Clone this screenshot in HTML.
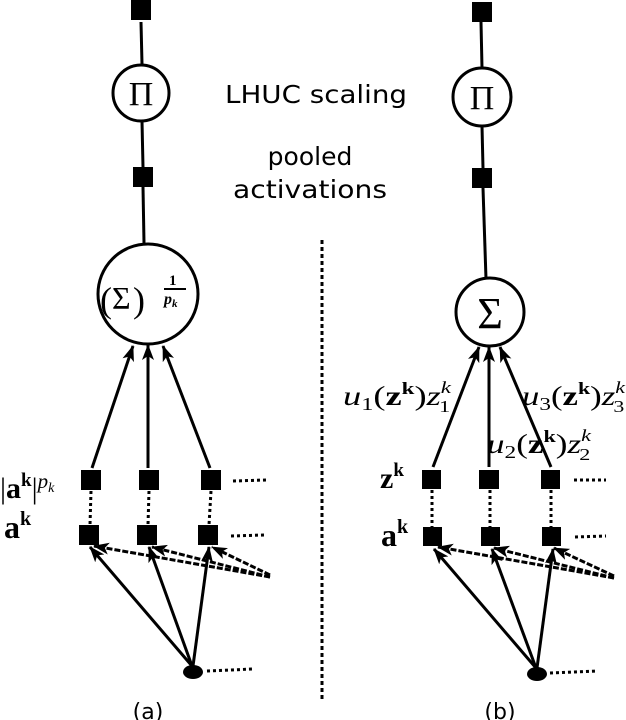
<!DOCTYPE html>
<html><head><meta charset="utf-8"><style>
html,body{margin:0;padding:0;background:#fff;width:626px;height:720px;overflow:hidden}
text{font-family:"Liberation Serif",serif}
.s{font-family:"DejaVu Sans","Liberation Sans",sans-serif}
</style></head><body>
<svg width="626" height="720" viewBox="0 0 626 720" xmlns="http://www.w3.org/2000/svg">
<defs>
<marker id="ar" viewBox="0 0 16 12" refX="15" refY="6" markerWidth="16" markerHeight="12" orient="auto" markerUnits="userSpaceOnUse">
<path d="M0,0 L16,6 L0,12 L4,6 z" fill="#000"/>
</marker>
</defs>
<g stroke="#000" fill="none" stroke-width="3">
<line x1="141" y1="22" x2="142" y2="64"/>
<circle cx="141" cy="93" r="28"/>
<line x1="142" y1="121" x2="143" y2="167"/>
<line x1="143" y1="187" x2="144" y2="243"/>
<circle cx="148" cy="294" r="50"/>
<line x1="481" y1="22" x2="482" y2="68"/>
<circle cx="482" cy="97" r="29"/>
<line x1="482" y1="126" x2="483" y2="168"/>
<line x1="483" y1="188" x2="486" y2="279"/>
<circle cx="490" cy="312" r="34"/>
</g>
<g fill="#000">
<rect x="131" y="0" width="20" height="20"/>
<rect x="133" y="167" width="20" height="20"/>
<rect x="472" y="2" width="20" height="20"/>
<rect x="472" y="168" width="20" height="20"/>
<rect x="81" y="470" width="20" height="20"/>
<rect x="139" y="470" width="20" height="20"/>
<rect x="201" y="470" width="20" height="20"/>
<rect x="79" y="525" width="20" height="20"/>
<rect x="137" y="525" width="20" height="20"/>
<rect x="198" y="525" width="20" height="20"/>
<rect x="422" y="470" width="19" height="19"/>
<rect x="479" y="470" width="20" height="19"/>
<rect x="541" y="470" width="19" height="19"/>
<rect x="423" y="527" width="19" height="19"/>
<rect x="481" y="527" width="19" height="19"/>
<rect x="542" y="527" width="19" height="19"/>
<ellipse cx="193" cy="672" rx="10" ry="7"/>
<ellipse cx="537" cy="674" rx="10" ry="7"/>
</g>
<g stroke="#000" stroke-width="3" stroke-dasharray="3,3" fill="none">
<line x1="91" y1="491" x2="90" y2="525"/>
<line x1="149" y1="491" x2="148" y2="525"/>
<line x1="211" y1="491" x2="209" y2="525"/>
<line x1="432" y1="490" x2="432" y2="527"/>
<line x1="490" y1="490" x2="490" y2="527"/>
<line x1="551" y1="490" x2="551" y2="527"/>
<line x1="233" y1="481" x2="266" y2="480"/>
<line x1="231" y1="536" x2="264" y2="535"/>
<line x1="207" y1="671" x2="253" y2="669"/>
<line x1="574" y1="480" x2="606" y2="480"/>
<line x1="575" y1="537" x2="606" y2="536"/>
<line x1="550" y1="673" x2="597" y2="671"/>
</g>
<g stroke="#000" stroke-width="3" stroke-dasharray="6,2" fill="none" marker-end="url(#ar)">
<line x1="270" y1="577" x2="94" y2="546"/>
<line x1="270" y1="577" x2="152" y2="547"/>
<line x1="270" y1="575" x2="212" y2="547"/>
<line x1="614" y1="578" x2="438" y2="547"/>
<line x1="614" y1="578" x2="494" y2="548"/>
<line x1="614" y1="576" x2="554" y2="548"/>
</g>
<g stroke="#000" stroke-width="3" fill="none" marker-end="url(#ar)">
<line x1="192" y1="666" x2="90" y2="547"/>
<line x1="192" y1="666" x2="149" y2="547"/>
<line x1="193" y1="666" x2="209" y2="547"/>
<line x1="536" y1="668" x2="434" y2="549"/>
<line x1="536" y1="668" x2="492" y2="549"/>
<line x1="537" y1="668" x2="553" y2="549"/>
<line x1="92" y1="468" x2="133" y2="346"/>
<line x1="148" y1="468" x2="148" y2="345"/>
<line x1="210" y1="468" x2="163" y2="346"/>
<line x1="433" y1="467" x2="479" y2="347"/>
<line x1="489" y1="467" x2="489" y2="347"/>
<line x1="551" y1="467" x2="500" y2="347"/>
</g>
<line x1="322" y1="240" x2="322" y2="702" stroke="#000" stroke-width="3" stroke-dasharray="4,3"/>
<text x="141" y="105" style="font-size:34px" text-anchor="middle">Π</text>
<text x="482" y="109" style="font-size:34px" text-anchor="middle">Π</text>
<text x="490" y="328" style="font-size:44px" text-anchor="middle">Σ</text>
<text x="100" y="312" style="font-size:36px">(</text>
<text x="112" y="309" style="font-size:32px">Σ</text>
<text x="133" y="312" style="font-size:36px">)</text>
<text x="169" y="285" style="font-size:15px;font-weight:bold">1</text>
<line x1="164" y1="289" x2="186" y2="289" stroke="#000" stroke-width="2"/>
<text x="164" y="304" style="font-size:16px;font-style:italic;font-weight:bold">p<tspan style="font-size:11px" dy="3">k</tspan></text>
<text x="225" y="103" class="s" style="font-size:25px" textLength="182" lengthAdjust="spacingAndGlyphs">LHUC scaling</text>
<text x="310" y="165" class="s" style="font-size:25px" text-anchor="middle">pooled</text>
<text x="233" y="198" class="s" style="font-size:25px" textLength="154" lengthAdjust="spacingAndGlyphs">activations</text>
<text x="148" y="719" class="s" style="font-size:22px" text-anchor="middle">(a)</text>
<text x="500" y="719" class="s" style="font-size:22px" text-anchor="middle">(b)</text>
<text x="0" y="498" style="font-size:30px">|<tspan style="font-weight:bold">a</tspan><tspan style="font-weight:bold;font-size:19px" dy="-12">k</tspan><tspan dy="12">|</tspan><tspan style="font-style:italic;font-size:21px" dy="-10">p</tspan><tspan style="font-style:italic;font-size:14px" dy="4">k</tspan></text>
<text x="4" y="538" style="font-size:32px;font-weight:bold">a<tspan style="font-size:20px" dy="-13">k</tspan></text>
<text x="380" y="488" style="font-size:30px;font-weight:bold">z<tspan style="font-size:19px" dy="-12">k</tspan></text>
<text x="381" y="546" style="font-size:32px;font-weight:bold">a<tspan style="font-size:20px" dy="-13">k</tspan></text>
<text x="343" y="405" style="font-size:27px" textLength="108" lengthAdjust="spacingAndGlyphs"><tspan style="font-style:italic">u</tspan><tspan style="font-size:18px" dy="5">1</tspan><tspan dy="-5">(</tspan><tspan style="font-weight:bold">z</tspan><tspan style="font-weight:bold;font-size:17px" dy="-11">k</tspan><tspan dy="11">)</tspan><tspan style="font-style:italic">z</tspan><tspan style="font-style:italic;font-size:17px" dy="-12">k</tspan><tspan style="font-size:17px" dx="-9" dy="19">1</tspan></text>
<text x="522" y="405" style="font-size:27px" textLength="103" lengthAdjust="spacingAndGlyphs"><tspan style="font-style:italic">u</tspan><tspan style="font-size:18px" dy="5">3</tspan><tspan dy="-5">(</tspan><tspan style="font-weight:bold">z</tspan><tspan style="font-weight:bold;font-size:17px" dy="-11">k</tspan><tspan dy="11">)</tspan><tspan style="font-style:italic">z</tspan><tspan style="font-style:italic;font-size:17px" dy="-12">k</tspan><tspan style="font-size:17px" dx="-9" dy="19">3</tspan></text>
<text x="487" y="453" style="font-size:27px" textLength="104" lengthAdjust="spacingAndGlyphs"><tspan style="font-style:italic">u</tspan><tspan style="font-size:18px" dy="5">2</tspan><tspan dy="-5">(</tspan><tspan style="font-weight:bold">z</tspan><tspan style="font-weight:bold;font-size:17px" dy="-11">k</tspan><tspan dy="11">)</tspan><tspan style="font-style:italic">z</tspan><tspan style="font-style:italic;font-size:17px" dy="-12">k</tspan><tspan style="font-size:17px" dx="-9" dy="19">2</tspan></text>
</svg>
</body></html>
